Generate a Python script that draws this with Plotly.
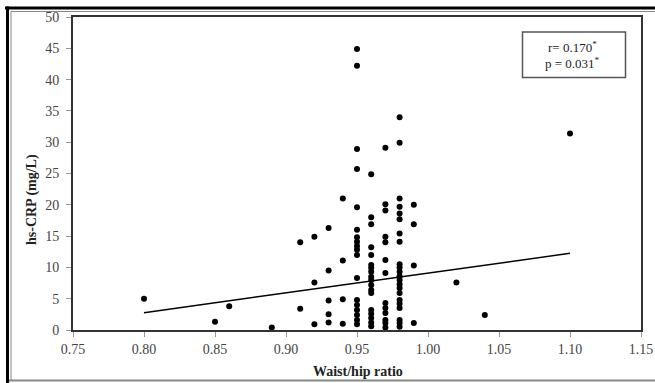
import plotly.graph_objects as go

# Waist/hip ratio values (x) and hs-CRP (mg/L) values (y), read per column
x_080 = [0.80]; y_080 = [5.0]
x_085 = [0.85]; y_085 = [1.3]
x_086 = [0.86]; y_086 = [3.8]
x_089 = [0.89]; y_089 = [0.4]
y_091 = [14.0, 3.4]
y_092 = [14.9, 7.6, 0.9]
y_093 = [16.3, 9.5, 4.7, 2.5, 1.2]
y_094 = [21.0, 11.1, 4.9, 1.0]
y_095 = [44.9, 42.2, 28.9, 25.7, 19.6, 16.0, 14.8, 14.1, 13.4, 12.8, 12.0,
         8.3, 4.8, 4.0, 3.2, 2.4, 1.6, 0.9]
y_096 = [24.9, 18.0, 16.9, 13.2, 12.0, 10.4, 9.9, 9.3, 8.5, 8.0, 7.2, 6.4,
         5.9, 3.2, 2.6, 1.9, 1.2, 0.6]
y_097 = [29.1, 20.1, 19.1, 14.9, 14.0, 11.2, 9.1, 4.3, 3.5, 2.7, 1.6, 1.1, 0.4]
y_098 = [34.0, 29.9, 21.0, 19.7, 18.6, 17.7, 15.4, 14.1, 10.5, 10.0, 9.3,
         8.6, 8.0, 7.3, 6.7, 5.9, 4.8, 4.2, 3.5, 1.6, 1.1, 0.5]
y_099 = [20.0, 16.9, 10.3, 1.1]
x_other = [1.02, 1.04, 1.10]
y_other = [7.6, 2.4, 31.4]

# regression line endpoints
fit_x = [0.80, 1.10]
fit_y = [2.77, 12.25]

x_ticks = [0.75, 0.80, 0.85, 0.90, 0.95, 1.00, 1.05, 1.10, 1.15]
y_ticks = [0, 5, 10, 15, 20, 25, 30, 35, 40, 45, 50]
stat_lines = ["r= 0.170<sup>*</sup>", "p = 0.031<sup>*</sup>"]

cols = [(0.91, y_091), (0.92, y_092), (0.93, y_093), (0.94, y_094),
        (0.95, y_095), (0.96, y_096), (0.97, y_097), (0.98, y_098), (0.99, y_099)]
xs = x_080 + x_085 + x_086 + x_089
ys = y_080 + y_085 + y_086 + y_089
for cx, cy in cols:
    xs += [cx] * len(cy)
    ys += cy
xs += x_other
ys += y_other

fig = go.Figure()
fig.add_trace(go.Scatter(x=fit_x, y=fit_y, mode="lines",
                         line=dict(color="black", width=1.5), showlegend=False))
fig.add_trace(go.Scatter(x=xs, y=ys, mode="markers", cliponaxis=False,
                         marker=dict(color="black", size=6), showlegend=False))

L, R, T, B = 73, 14, 17, 53
W, H = 655, 383
pw, ph = W - L - R, H - T - B

def px(x):
    return (x - L) / pw

def py(y):
    return (H - B - y) / ph

tickfont = dict(family="Liberation Serif", size=14, color="#444444")
fig.update_layout(
    width=W, height=H,
    margin=dict(l=L, r=R, t=T, b=B, autoexpand=False),
    paper_bgcolor="white", plot_bgcolor="white",
    font=dict(family="Liberation Serif"),
    xaxis=dict(range=[0.75, 1.15], tickvals=x_ticks, automargin=False,
               ticktext=[f"{v:.2f}" for v in x_ticks],
               showgrid=False, zeroline=False, showline=True, mirror=True,
               linecolor="#333333", linewidth=2, ticks="outside", ticklen=5,
               tickcolor="#999999", tickwidth=1, tickfont=tickfont),
    yaxis=dict(range=[0, 50], tickvals=y_ticks, automargin=False,
               showgrid=False, zeroline=False, showline=True, mirror=True,
               linecolor="#333333", linewidth=2, ticks="outside", ticklen=5,
               tickcolor="#999999", tickwidth=1, tickfont=tickfont,
               ticklabelstandoff=4),
)

def label(xp, yp, text, angle=0, size=14):
    fig.add_annotation(x=px(xp), y=py(yp), xref="paper", yref="paper",
                       xanchor="center", yanchor="middle",
                       text=text, textangle=angle, showarrow=False,
                       font=dict(family="Liberation Serif", size=size, color="#222222"))

# axis titles
label(357.5, 371.5, "<b>Waist/hip ratio</b>")
label(32, 200, "<b>hs-CRP (mg/L)</b>", angle=-90)

# stats box
fig.add_shape(type="rect", xref="paper", yref="paper",
              x0=px(522.5), x1=px(625.5), y0=py(77.5), y1=py(32),
              line=dict(color="#555555", width=1.5), fillcolor="white")
label(572.5, 47, stat_lines[0], size=13)
label(572.5, 63.5, stat_lines[1], size=13)

# outer frame
fig.add_shape(type="line", xref="paper", yref="paper",
              x0=px(5), x1=px(660), y0=py(8), y1=py(8),
              line=dict(color="black", width=3))
fig.add_shape(type="line", xref="paper", yref="paper",
              x0=px(7.5), x1=px(7.5), y0=py(6.5), y1=py(390),
              line=dict(color="black", width=3))
fig.add_shape(type="line", xref="paper", yref="paper",
              x0=px(11), x1=px(660), y0=py(11.5), y1=py(11.5),
              line=dict(color="#888888", width=1))
fig.add_shape(type="line", xref="paper", yref="paper",
              x0=px(11), x1=px(11), y0=py(11.5), y1=py(381),
              line=dict(color="#888888", width=1))
fig.add_shape(type="line", xref="paper", yref="paper",
              x0=px(9), x1=px(660), y0=py(380.5), y1=py(380.5),
              line=dict(color="#888888", width=2))

fig.write_html("out.html")
